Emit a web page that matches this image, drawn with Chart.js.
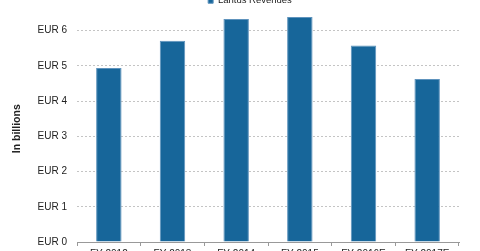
<!DOCTYPE html>
<html>
<head>
<meta charset="utf-8">
<script src="https://cdn.jsdelivr.net/npm/chart.js@4"></script>
<style>
html,body{margin:0;padding:0;background:#fff;}
#box{position:relative;width:480px;height:251px;overflow:hidden;background:#fff;}
#c{position:absolute;left:0;top:-13px;}
</style>
</head>
<body>
<div id="box"><canvas id="c" width="500" height="275"></canvas></div>
<script>
const categories = ["FY 2012", "FY 2013", "FY 2014", "FY 2015", "FY 2016E", "FY 2017E"];
const seriesName = "Lantus Revenues";
const revenues = [4.94, 5.71, 6.33, 6.39, 5.58, 4.63];
const yTicks = [0, 1, 2, 3, 4, 5, 6];

const FONT = "'Liberation Sans', Arial, sans-serif";
Chart.defaults.font.family = FONT;
Chart.defaults.color = '#222';

new Chart(document.getElementById('c'), {
  type: 'bar',
  data: {
    labels: categories,
    datasets: [{
      label: seriesName,
      data: revenues,
      backgroundColor: '#17669A',
      borderColor: '#5E93BD',
      borderWidth: 1,
      categoryPercentage: 1,
      barPercentage: 0.4
    }]
  },
  options: {
    responsive: false,
    animation: false,
    devicePixelRatio: 1,
    layout: { padding: 0 },
    plugins: {
      legend: {
        position: 'top',
        labels: {
          boxWidth: 5, boxHeight: 5, padding: 9,
          font: { size: 9.5, family: FONT }, color: '#222'
        }
      },
      tooltip: { enabled: false }
    },
    scales: {
      x: {
        grid: { display: true, drawOnChartArea: false, drawTicks: true, tickLength: 4, color: '#999', offset: true },
        border: { display: true, color: '#999' },
        ticks: { padding: 2, font: { size: 10, family: FONT }, color: '#222', maxRotation: 0 }
      },
      y: {
        min: 0, max: 6.43,
        afterBuildTicks: s => { s.ticks = yTicks.map(v => ({ value: v })); },
        afterFit: s => { s.width = 77; },
        grid: { color: '#c4c4c4', drawTicks: false },
        border: { display: false, dash: [2, 2] },
        ticks: { padding: 10, font: { size: 10, family: FONT }, color: '#222', callback: v => 'EUR ' + v },
        title: { display: true, text: 'In billions', font: { size: 10.5, weight: 'bold', family: FONT }, color: '#222', padding: { top: 11, bottom: 0 } }
      },
      yRight: {
        position: 'right', display: true,
        afterFit: s => { s.width = 41; },
        grid: { display: false, drawTicks: false },
        border: { display: false },
        ticks: { display: false }
      }
    }
  }
});
</script>
</body>
</html>
